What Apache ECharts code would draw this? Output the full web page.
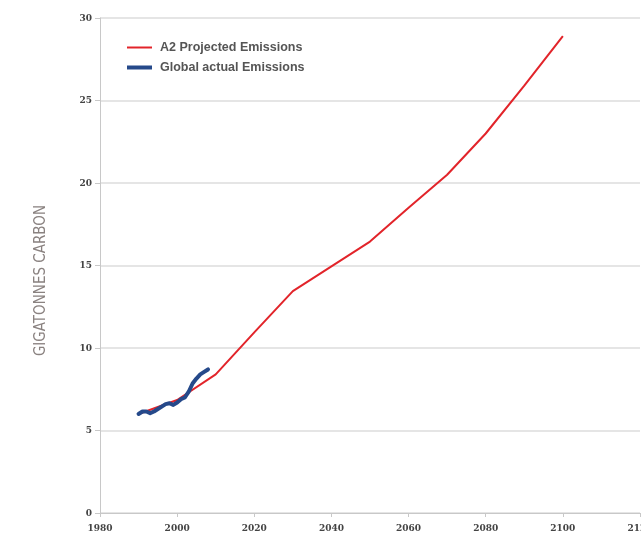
<!DOCTYPE html>
<html>
<head>
<meta charset="utf-8">
<script src="https://cdn.jsdelivr.net/npm/echarts@6/dist/echarts.min.js"></script>
<style>html,body{margin:0;padding:0;background:#fff}#c{width:641px;height:536px}</style>
</head>
<body>
<div id="c"></div>
<script>
const projYears = [1990, 2000, 2010, 2020, 2030, 2040, 2050, 2060, 2070, 2080, 2090, 2100];
const projValues = [6.0, 6.85, 8.4, 10.95, 13.45, 14.95, 16.45, 18.5, 20.5, 23.0, 25.9, 28.9];
const actualYears = [1990, 1991, 1992, 1993, 1994, 1995, 1996, 1997, 1998, 1999, 2000, 2001, 2002, 2003, 2004, 2005, 2006, 2007, 2008];
const actualValues = [6.0, 6.15, 6.15, 6.05, 6.15, 6.3, 6.45, 6.6, 6.65, 6.55, 6.7, 6.9, 7.0, 7.35, 7.85, 8.15, 8.4, 8.55, 8.7];
const seriesNames = ['A2 Projected Emissions', 'Global actual Emissions'];
const yTitle = 'GIGATONNES CARBON';

const chart = echarts.init(document.getElementById('c'), null, {renderer: 'canvas'});
const tickFont = {color: '#444', fontFamily: '"DejaVu Serif Condensed","DejaVu Serif",serif', fontWeight: 'bold', fontSize: 10};
chart.setOption({
  backgroundColor: '#fff',
  animation: false,
  grid: {left: 100, right: 1, top: 18, bottom: 23, containLabel: false, outerBoundsMode: 'none'},
  legend: [
    {data: [seriesNames[0]], orient: 'vertical', left: 122, top: 36, icon: 'rect', itemWidth: 25, itemHeight: 2, itemGap: 8,
     textStyle: {color: '#555', fontFamily: '"Liberation Sans",Arial,sans-serif', fontWeight: 'bold', fontSize: 12.5, padding: [4, 0, 0, 3]}},
    {data: [seriesNames[1]], orient: 'vertical', left: 122, top: 56, icon: 'rect', itemWidth: 25, itemHeight: 4, itemGap: 8,
     textStyle: {color: '#555', fontFamily: '"Liberation Sans",Arial,sans-serif', fontWeight: 'bold', fontSize: 12.5, padding: [4, 0, 0, 3]}}
  ],
  graphic: [{
    type: 'text', left: 34, top: 205, rotation: Math.PI / 2,
    style: {text: yTitle, fill: '#8a8280', font: '15px "Liberation Sans Narrow","DejaVu Sans Condensed",sans-serif'}
  }],
  xAxis: {
    type: 'value', min: 1980, max: 2120, interval: 20,
    axisLine: {show: true, lineStyle: {color: '#c8c8c8', width: 1}},
    axisTick: {show: true, length: 4, inside: false, lineStyle: {color: '#c8c8c8'}},
    splitLine: {show: false},
    axisLabel: Object.assign({margin: 10, showMaxLabel: true, formatter: v => String(v)}, tickFont)
  },
  yAxis: {
    type: 'value', min: 0, max: 30, interval: 5,
    axisLine: {show: true, lineStyle: {color: '#c8c8c8', width: 1}},
    axisTick: {show: true, length: 5, lineStyle: {color: '#c8c8c8'}},
    splitLine: {show: true, lineStyle: {color: '#dcdcdc', width: 1.5}},
    axisLabel: Object.assign({margin: 8}, tickFont)
  },
  series: [
    {name: seriesNames[0], type: 'line', data: projYears.map((y, i) => [y, projValues[i]]),
     showSymbol: false, symbol: 'none', color: '#e2242a', lineStyle: {color: '#e2242a', width: 2}, z: 2},
    {name: seriesNames[1], type: 'line', data: actualYears.map((y, i) => [y, actualValues[i]]),
     showSymbol: false, symbol: 'none', color: '#25498a', lineStyle: {color: '#25498a', width: 4, cap: 'round', join: 'round'}, z: 3}
  ]
});
</script>
</body>
</html>
